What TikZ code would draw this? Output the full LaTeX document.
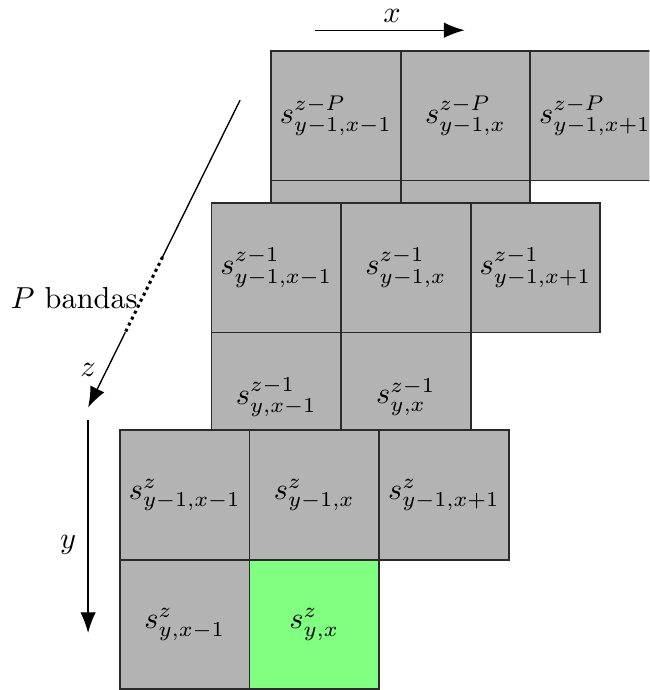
\documentclass[tikz,border=0pt]{standalone}
\usepackage{amsmath,amssymb}
\usepackage{tikz}
\usepackage{xcolor}
\usetikzlibrary{arrows.meta,calc}
\definecolor{cellgray}{HTML}{B3B3B3}
\definecolor{cellgreen}{HTML}{80FF80}
\definecolor{edge}{HTML}{2A2A2A}
\tikzset{
  cell/.style={draw=edge, fill=cellgray, line width=0.6pt, minimum width=1.5cm,
               minimum height=1.5cm, inner sep=0pt, font=\normalsize},
  current/.style={cell, fill=cellgreen},
  axis/.style={-{Latex[length=2.4mm]}, line width=0.45pt, draw=black}
}

\begin{document}
\begin{tikzpicture}[x=1cm,y=1cm,>=Latex]
        \useasboundingbox (0,0) rectangle (7.52,7.99);
        \clip (0,0) rectangle (7.52,7.99);

        % band z-P
        \begin{scope}[shift={(1.75,4.39)}]
          \node[cell] (pym) at (2.14,0.76) {};
          \node[cell] (pyx) at (3.64,0.76) {};
          \node[cell] (pmm) at (2.14,2.26) {$s^{z-P}_{y-1,x-1}$};
          \node[cell] (pmx) at (3.64,2.26) {$s^{z-P}_{y-1,x}$};
          \node[cell] (pmp) at (5.14,2.26) {$s^{z-P}_{y-1,x+1}$};
        \end{scope}

        % band z-1
        \begin{scope}[shift={(1.06,2.63)}]
          \node[cell] (qym) at (2.14,0.76) {$s^{z-1}_{y,x-1}$};
          \node[cell] (qyx) at (3.64,0.76) {$s^{z-1}_{y,x}$};
          \node[cell] (qmm) at (2.14,2.26) {$s^{z-1}_{y-1,x-1}$};
          \node[cell] (qmx) at (3.64,2.26) {$s^{z-1}_{y-1,x}$};
          \node[cell] (qmp) at (5.14,2.26) {$s^{z-1}_{y-1,x+1}$};
        \end{scope}

        % band z
        \node[cell] (sym) at (2.14,0.76) {$s^{z}_{y,x-1}$};
        \node[current] (syx) at (3.64,0.76) {$s^{z}_{y,x}$};
        \node[cell] (smm) at (2.14,2.26) {$s^{z}_{y-1,x-1}$};
        \node[cell] (smx) at (3.64,2.26) {$s^{z}_{y-1,x}$};
        \node[cell] (smp) at (5.14,2.26) {$s^{z}_{y-1,x+1}$};

        % axes
        \coordinate (xa) at (3.65,7.64);
        \coordinate (xb) at (5.38,7.64);
        \draw[axis] (xa) -- (xb);
        \node (xlab) at (4.54,7.81) {$x$};

        \coordinate (ya) at (1.02,3.13);
        \coordinate (yb) at (1.02,0.66);
        \draw[axis] (ya) -- (yb);
        \node (ylab) at (0.79,1.68) {$y$};

        \coordinate (za) at (2.78,6.83);
        \coordinate (zb) at (1.02,3.27);
        \coordinate (zc) at ($(za)!0.51!(zb)$);
        \coordinate (zd) at ($(za)!0.755!(zb)$);
        \draw[line width=0.45pt] (za) -- (zc);
        \draw[line width=1pt, dash pattern=on 1pt off 1.2pt] (zc) -- (zd);
        \draw[axis] (zd) -- (zb);
        \node (zlab) at (1.02,3.71) {$z$};
        \node (plab) at (0.86,4.54) {$P$ bandas};
      \end{tikzpicture}
\end{document}
